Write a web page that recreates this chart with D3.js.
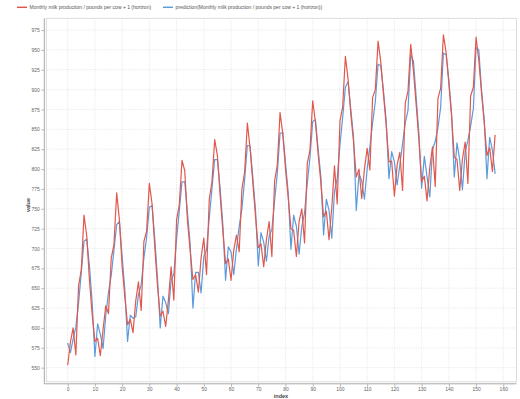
<!DOCTYPE html>
<html>
<head>
<meta charset="utf-8">
<script src="https://cdn.jsdelivr.net/npm/d3@7"></script>
<style>
  body { margin: 0; background: #fff; }
  svg { display: block; }
  text { font-family: "Liberation Sans", Arial, sans-serif; }
</style>
</head>
<body>
<svg id="chart" width="520" height="399"></svg>
<script>
// Monthly milk production (pounds per cow), shifted by one step (horizon +1)
const actual = [
  553, 582,
  600, 566, 653, 673, 742, 716, 660, 617, 583, 587, 565, 598,
  628, 618, 688, 705, 770, 736, 678, 639, 604, 611, 594, 634,
  658, 622, 709, 722, 782, 756, 702, 653, 615, 621, 602, 635,
  677, 635, 736, 755, 811, 798, 735, 697, 661, 667, 645, 688,
  713, 667, 762, 784, 837, 817, 767, 722, 681, 687, 660, 698,
  717, 696, 775, 796, 858, 826, 783, 740, 701, 706, 677, 711,
  734, 690, 785, 805, 871, 845, 801, 764, 725, 723, 690, 734,
  750, 707, 807, 824, 886, 859, 819, 783, 740, 747, 711, 751,
  804, 756, 860, 878, 942, 913, 869, 834, 790, 800, 763, 800,
  826, 799, 890, 900, 961, 935, 894, 855, 809, 810, 766, 805,
  821, 773, 883, 898, 957, 924, 881, 837, 784, 791, 760, 802,
  828, 778, 889, 902, 969, 947, 908, 867, 815, 812, 773, 813,
  834, 782, 892, 903, 966, 937, 896, 858, 817, 827, 797, 843
];

// Model prediction for the same target
const prediction = [
  581, 569,
  586, 601, 631, 670, 709, 712, 678, 632, 564, 605, 592, 574,
  616, 645, 666, 698, 730, 734, 690, 648, 583, 616, 612, 614,
  642, 654, 688, 714, 752, 754, 712, 662, 600, 640, 632, 618,
  660, 668, 712, 748, 784, 784, 745, 705, 625, 670, 670, 644,
  690, 698, 738, 776, 812, 812, 775, 730, 660, 702, 696, 667,
  700, 728, 750, 787, 830, 829, 790, 748, 678, 720, 708, 684,
  716, 724, 760, 795, 845, 846, 808, 770, 699, 742, 728, 693,
  728, 745, 782, 815, 860, 862, 825, 790, 717, 762, 748, 713,
  772, 788, 830, 865, 903, 910, 875, 840, 748, 794, 785, 762,
  800, 828, 858, 885, 932, 930, 898, 860, 788, 822, 809, 780,
  805, 832, 858, 874, 944, 936, 890, 845, 776, 816, 790, 765,
  824, 835, 852, 878, 946, 944, 912, 870, 790, 833, 811, 774,
  822, 836, 854, 876, 953, 950, 900, 862, 788, 840, 824, 794
];

const xTicks = [0, 10, 20, 30, 40, 50, 60, 70, 80, 90, 100, 110, 120, 130, 140, 150, 160];
const yTicks = [550, 575, 600, 625, 650, 675, 700, 725, 750, 775, 800, 825, 850, 875, 900, 925, 950, 975];

const seriesNames = [
  "Monthly milk production / pounds per cow + 1 (horizon)",
  "prediction(Monthly milk production / pounds per cow + 1 (horizon))"
];
const seriesColors = ["#e2574c", "#5b9bdc"];

const svg = d3.select("#chart");
const plotLeft = 46.3, plotRight = 516.5, plotTop = 18.3, plotBottom = 381.8;

const x = d3.scaleLinear().domain([-7.85, 164.85]).range([plotLeft, plotRight]);
const y = d3.scaleLinear().domain([532.2, 989.8]).range([plotBottom, plotTop]);

// grid
const grid = svg.append("g");
grid.selectAll("line.v").data(xTicks).join("line")
  .attr("x1", d => x(d)).attr("x2", d => x(d))
  .attr("y1", plotTop).attr("y2", plotBottom)
  .attr("stroke", "#e3e3e3").attr("stroke-width", 0.8).attr("stroke-dasharray", "1.2,1.2");
grid.selectAll("line.h").data(yTicks).join("line")
  .attr("x1", plotLeft).attr("x2", plotRight)
  .attr("y1", d => y(d)).attr("y2", d => y(d))
  .attr("stroke", "#e3e3e3").attr("stroke-width", 0.8).attr("stroke-dasharray", "1.2,1.2");

// plot frame
svg.append("rect")
  .attr("x", plotLeft).attr("y", plotTop)
  .attr("width", plotRight - plotLeft).attr("height", plotBottom - plotTop)
  .attr("fill", "none").attr("stroke", "#d4d4d4").attr("stroke-width", 0.8);

// axes
const yAxis = svg.append("g").attr("transform", "translate(44.3,0)")
  .call(d3.axisLeft(y).tickValues(yTicks).tickSize(3).tickSizeOuter(0).tickPadding(1.5));
const xAxis = svg.append("g").attr("transform", "translate(0,383.8)")
  .call(d3.axisBottom(x).tickValues(xTicks).tickSize(3).tickSizeOuter(0).tickPadding(1));
[yAxis, xAxis].forEach(g => {
  g.select(".domain").attr("stroke", "#a8a8a8").attr("stroke-width", 1);
  g.selectAll(".tick line").attr("stroke", "#a8a8a8").attr("stroke-width", 0.8);
  g.selectAll(".tick text").attr("fill", "#666").style("font-size", "5px")
    .style("font-family", "'Liberation Sans', Arial, sans-serif");
});
yAxis.select(".domain").attr("d", `M0,${plotTop}V${plotBottom + 2}`);
xAxis.select(".domain").attr("d", `M${plotLeft - 2},0H${plotRight}`);

// axis titles
svg.append("text").attr("transform", "translate(30,205) rotate(-90)")
  .attr("text-anchor", "middle").attr("fill", "#444")
  .style("font-size", "5.5px").style("font-weight", "bold").text("value");
svg.append("text").attr("x", 281).attr("y", 397.5)
  .attr("text-anchor", "middle").attr("fill", "#444")
  .style("font-size", "5.5px").style("font-weight", "bold").text("index");

// series lines
const line = d3.line().x((d, i) => x(i)).y(d => y(d));
svg.append("path").datum(prediction)
  .attr("fill", "none").attr("stroke", seriesColors[1]).attr("stroke-width", 1.2)
  .attr("stroke-linejoin", "round").attr("d", line);
svg.append("path").datum(actual)
  .attr("fill", "none").attr("stroke", seriesColors[0]).attr("stroke-width", 1.2)
  .attr("stroke-linejoin", "round").attr("d", line);

// legend
const legendX = [17, 163];
seriesNames.forEach((name, i) => {
  svg.append("line")
    .attr("x1", legendX[i]).attr("x2", legendX[i] + 10)
    .attr("y1", 7.3).attr("y2", 7.3)
    .attr("stroke", seriesColors[i]).attr("stroke-width", 1.5);
  svg.append("text")
    .attr("x", legendX[i] + 12.5).attr("y", 9)
    .attr("fill", "#555").style("font-size", "5px").text(name);
});
</script>
</body>
</html>
